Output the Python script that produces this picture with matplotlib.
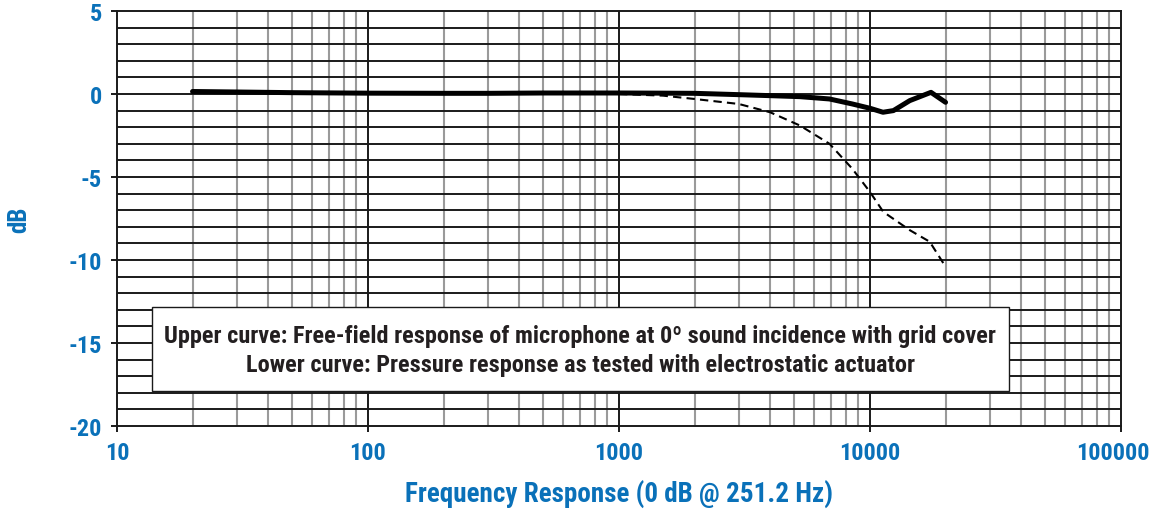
import matplotlib
matplotlib.use('Agg')
import matplotlib.pyplot as plt
import matplotlib.transforms as mtransforms
from matplotlib.patches import Rectangle
from matplotlib.ticker import FixedLocator, NullFormatter

blue = '#0a71b9'
fam = ['Roboto Condensed', 'IBM Plex Sans Condensed', 'DejaVu Sans']

# upper curve: free-field response (solid)
f_free = [20, 30, 50, 100, 200, 300, 500, 700, 1000, 1500, 2000, 3000, 4000,
          5260, 6900, 8500, 10000, 11270, 12400, 14400, 17500, 20000]
db_free = [0.15, 0.12, 0.08, 0.05, 0.04, 0.04, 0.06, 0.06, 0.06, 0.05, 0.04,
           -0.04, -0.1, -0.16, -0.3, -0.6, -0.86, -1.1, -1.0, -0.4, 0.1, -0.5]

# lower curve: pressure response (dashed)
f_press = [1000, 1500, 2000, 3000, 4000, 5260, 6900, 8500, 10000, 11300,
           14400, 17300, 20000]
db_press = [0.0, -0.1, -0.3, -0.6, -1.1, -1.9, -3.0, -4.5, -5.9, -7.1,
            -8.2, -8.9, -10.4]

x_ticks = [10, 100, 1000, 10000, 100000]
x_labels = ['10', '100', '1000', '10000', '100000']
y_ticks = [5, 0, -5, -10, -15, -20]

legend_lines = ['Upper curve: Free-field response of microphone at 0\u00ba sound incidence with grid cover',
                'Lower curve: Pressure response as tested with electrostatic actuator']

fig = plt.figure(figsize=(11.56, 5.10), dpi=100)
ax = fig.add_axes([0.1012, 0.1627, 0.8685, 0.8138])

ax.set_xscale('log')
ax.set_xlim(10, 100000)
ax.set_ylim(-20, 5)

# grid: gray minor verticals, black horizontals every dB, black decade lines
minors = [d * m for d in [10, 100, 1000, 10000] for m in range(2, 10)]
for xv in minors:
    ax.axvline(xv, color='#9a9a9a', lw=1.5, zorder=1)
for yv in range(-19, 5):
    ax.axhline(yv, color='#1a1a1a', lw=1.4, zorder=2)
for xv in x_ticks[1:-1]:
    ax.axvline(xv, color='#1a1a1a', lw=1.4, zorder=2)

ax.plot(f_press, db_press, color='black', lw=1.5, dashes=(4, 2.5), zorder=4)
ax.plot(f_free, db_free, color='black', lw=3.6, solid_capstyle='round',
        solid_joinstyle='round', zorder=5)

ax.xaxis.set_major_locator(FixedLocator(x_ticks))
ax.xaxis.set_minor_locator(FixedLocator([]))
ax.xaxis.set_minor_formatter(NullFormatter())
ax.set_xticklabels(x_labels)
ax.set_yticks(y_ticks)
ax.set_yticklabels([str(v) for v in y_ticks])

for sp in ax.spines.values():
    sp.set_linewidth(1.4)
    sp.set_color('#1a1a1a')

ax.tick_params(axis='both', which='major', direction='out', length=4,
               width=1.4, color='#1a1a1a', labelcolor=blue)
ax.tick_params(axis='y', pad=7)
ax.tick_params(axis='x', pad=7)
for lab in ax.get_xticklabels() + ax.get_yticklabels():
    lab.set_family(fam)
    lab.set_fontweight('bold')
    lab.set_fontsize(17.5)
# last x label sits a bit left of its tick, as in the original
last = ax.get_xticklabels()[-1]
last.set_transform(last.get_transform() +
                   mtransforms.ScaledTranslation(-8 / 100, 0, fig.dpi_scale_trans))

ax.set_xlabel('Frequency Response (0 dB @ 251.2 Hz)', color=blue, family=fam,
              fontweight='bold', fontsize=19.5, labelpad=11)
ax.set_ylabel('dB', color=blue, family=fam, fontweight='bold', fontsize=18,
              labelpad=27)

box = Rectangle((0.0349, 0.0843), 0.854, 0.2024, transform=ax.transAxes,
                facecolor='white', edgecolor='#1a1a1a', lw=1.0, zorder=6)
ax.add_patch(box)
ax.text(0.4615, 0.217, legend_lines[0], transform=ax.transAxes, ha='center',
        va='center', family=fam, fontweight='bold', fontsize=17.5,
        color='#231f20', zorder=7)
ax.text(0.4615, 0.149, legend_lines[1], transform=ax.transAxes, ha='center',
        va='center', family=fam, fontweight='bold', fontsize=17.5,
        color='#231f20', zorder=7)

fig.savefig('out.png', dpi=100)
